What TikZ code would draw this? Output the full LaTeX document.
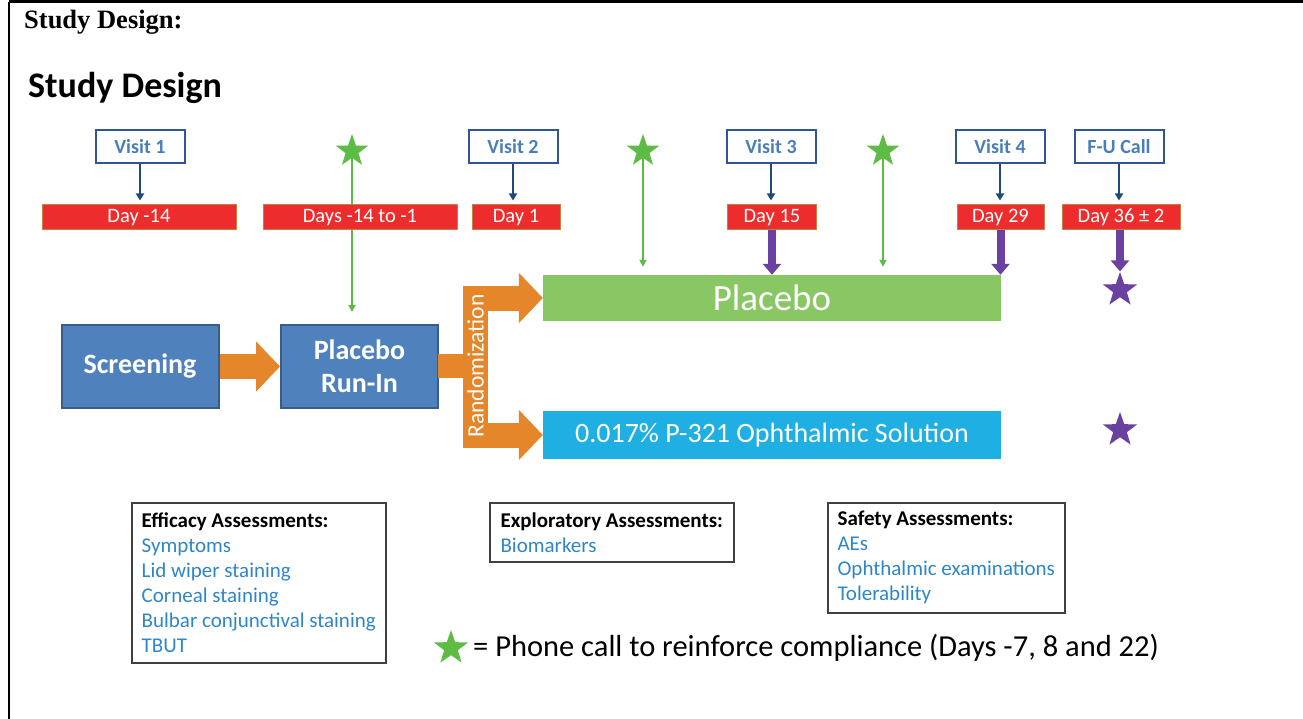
\documentclass[tikz,border=0pt]{standalone}
\usepackage{fontspec}
\setmainfont{Carlito}
\newfontfamily\timesfont{Liberation Serif}
\usetikzlibrary{arrows.meta,shapes.geometric}

\definecolor{boxblue}{RGB}{79,129,189}
\definecolor{boxedge}{RGB}{56,93,138}
\definecolor{visitedge}{RGB}{47,85,151}
\definecolor{visittext}{RGB}{74,126,187}
\definecolor{navy}{RGB}{31,73,125}
\definecolor{dayred}{RGB}{237,45,45}
\definecolor{dayedge}{RGB}{192,130,70}
\definecolor{placebogreen}{RGB}{137,199,101}
\definecolor{stargreen}{RGB}{94,187,70}
\definecolor{activeblue}{RGB}{31,175,227}
\definecolor{randorange}{RGB}{229,134,42}
\definecolor{callpurple}{RGB}{106,65,160}
\definecolor{itemblue}{RGB}{46,134,200}

\tikzset{
  visit/.style={draw=visitedge, line width=2pt, fill=white, minimum width=89pt, minimum height=33pt, inner sep=0pt, text=visittext, font=\fontsize{20}{24}\selectfont\bfseries},
  day/.style={draw=dayedge, line width=1pt, fill=dayred, minimum height=25pt, inner sep=0pt, text=white, font=\fontsize{20.5}{24}\selectfont},
  phase/.style={draw=boxedge, line width=2pt, fill=boxblue, minimum width=157pt, minimum height=83pt, text=white, font=\fontsize{28}{33}\selectfont\bfseries, align=center},
  arm/.style={minimum width=458pt, inner sep=0pt, text=white},
  callstar/.style={star, star points=5, star point ratio=2.5, minimum size=34pt, inner sep=0pt, fill=stargreen},
  fustar/.style={callstar, minimum size=36pt, fill=callpurple},
  visitarrow/.style={navy, line width=2pt, -{Triangle[width=8pt,length=7pt]}},
  callarrow/.style={stargreen, line width=2pt, -{Triangle[width=7pt,length=7pt]}},
  dayarrow/.style={callpurple, line width=8pt, -{Triangle[width=18pt,length=11pt]}},
  bigarrow/.style={randorange, line width=25pt, -{Triangle[width=49pt,length=24pt]}},
  assess/.style={draw=black!75, line width=1.5pt, anchor=north west, inner sep=0pt, align=left, text=itemblue, font=\fontsize{21}{25}\selectfont}
}

\begin{document}
\begin{tikzpicture}[x=1pt, y=-1pt]
\useasboundingbox (0,0) rectangle (1303,719);

% Page frame
\draw[line width=3pt] (9,2) -- (1303,2);
\draw[line width=2pt] (9,2) -- (9,719);

% Titles
\node[anchor=west, inner sep=0pt, font=\timesfont\fontsize{26.5}{30}\selectfont\bfseries] (cap) at (24,22) {Study Design:};
\node[anchor=west, inner sep=0pt, font=\fontsize{36}{40}\selectfont\bfseries] (title) at (28,88) {Study Design};

% Phases
\node[phase] (scr) at (140,366.5) {Screening};
\node[phase] (run) at (359.5,366.5) {Placebo\\Run-In};

% Arms
\node[arm, fill=placebogreen, minimum height=46pt, font=\fontsize{37}{40}\selectfont] (plc) at (772,298) {Placebo};
\node[arm, fill=activeblue, minimum height=48pt, font=\fontsize{28}{31}\selectfont] (act) at (772,435) {0.017\% P-321 Ophthalmic Solution};

% Phone calls
\node[callstar] (c1) at (352,151) {};
\node[callstar] (c2) at (643,151) {};
\node[callstar] (c3) at (883,151) {};
\draw[callarrow, shorten >=12pt] (c1.south) -- (c1 |- run.north);
\draw[callarrow, shorten >=8pt] (c2.south) -- (c2 |- plc.north);
\draw[callarrow, shorten >=8pt] (c3.south) -- (c3 |- plc.north);

% Visits
\node[visit] (v1) at (140,147) {Visit 1};
\node[visit] (v2) at (513,147) {Visit 2};
\node[visit] (v3) at (771,147) {Visit 3};
\node[visit] (v4) at (1000,147) {Visit 4};
\node[visit] (fu) at (1119,147) {F-U Call};

% Days
\node[day, minimum width=194pt] (d1) at (139,217.5) {Day -14};
\node[day, minimum width=194pt] (drun) at (360,217.5) {Days -14 to -1};
\node[day, minimum width=88pt] (d2) at (516,217.5) {Day 1};
\node[day, minimum width=89pt] (d15) at (772,217.5) {Day 15};
\node[day, minimum width=87pt] (d29) at (1000.5,217.5) {Day 29};
\node[day, minimum width=118pt] (d36) at (1121,217.5) {Day 36 ± 2};

\foreach \v/\d in {v1/d1, v2/d2, v3/d15, v4/d29, fu/d36}
  \draw[visitarrow, shorten >=4pt] (\v.south) -- (\v |- \d.north);

% Randomization
\draw[bigarrow] (scr.east) -- (run.west);
\fill[randorange] (438,354) rectangle (463,378);
\fill[randorange] (463,285.5) rectangle (488,447.5);
\coordinate (upfork) at (488,298);
\coordinate (downfork) at (488,435);
\draw[bigarrow] (upfork) -- (plc.west);
\draw[bigarrow] (downfork) -- (act.west);
\node[rotate=90, inner sep=0pt, text=white, font=\fontsize{23.5}{25}\selectfont] (rand) at (475.5,366) {Randomization};

% Visit days on treatment
\node[fustar] (f1) at (1120,290) {};
\node[fustar] (f2) at (1120,430) {};
\draw[dayarrow] (d15.south) -- (d15 |- plc.north);
\draw[dayarrow] (d29.south) -- (d29 |- plc.north);
\draw[dayarrow] (d36.south -| f1) -- (f1.north);

% Assessments
\node[assess, minimum width=254pt, minimum height=160pt] (eff) at (131,502) {\textcolor{black}{\textbf{Efficacy Assessments:}}\\Symptoms\\Lid wiper staining\\Corneal staining\\Bulbar conjunctival staining\\TBUT};
\node[assess, minimum width=244pt, minimum height=59pt] (expl) at (489,502) {\textcolor{black}{\textbf{Exploratory Assessments:}}\\Biomarkers};
\node[assess, minimum width=237pt, minimum height=110pt] (safe) at (827,502) {\textcolor{black}{\textbf{Safety Assessments:}}\\AEs\\Ophthalmic examinations\\Tolerability};

% Key
\node[callstar, minimum size=36pt] (key) at (451,648) {};
\node[anchor=west, inner sep=0pt, font=\fontsize{30.5}{34}\selectfont] (keytext) at (473,648) {= Phone call to reinforce compliance (Days -7, 8 and 22)};

\end{tikzpicture}
\end{document}
